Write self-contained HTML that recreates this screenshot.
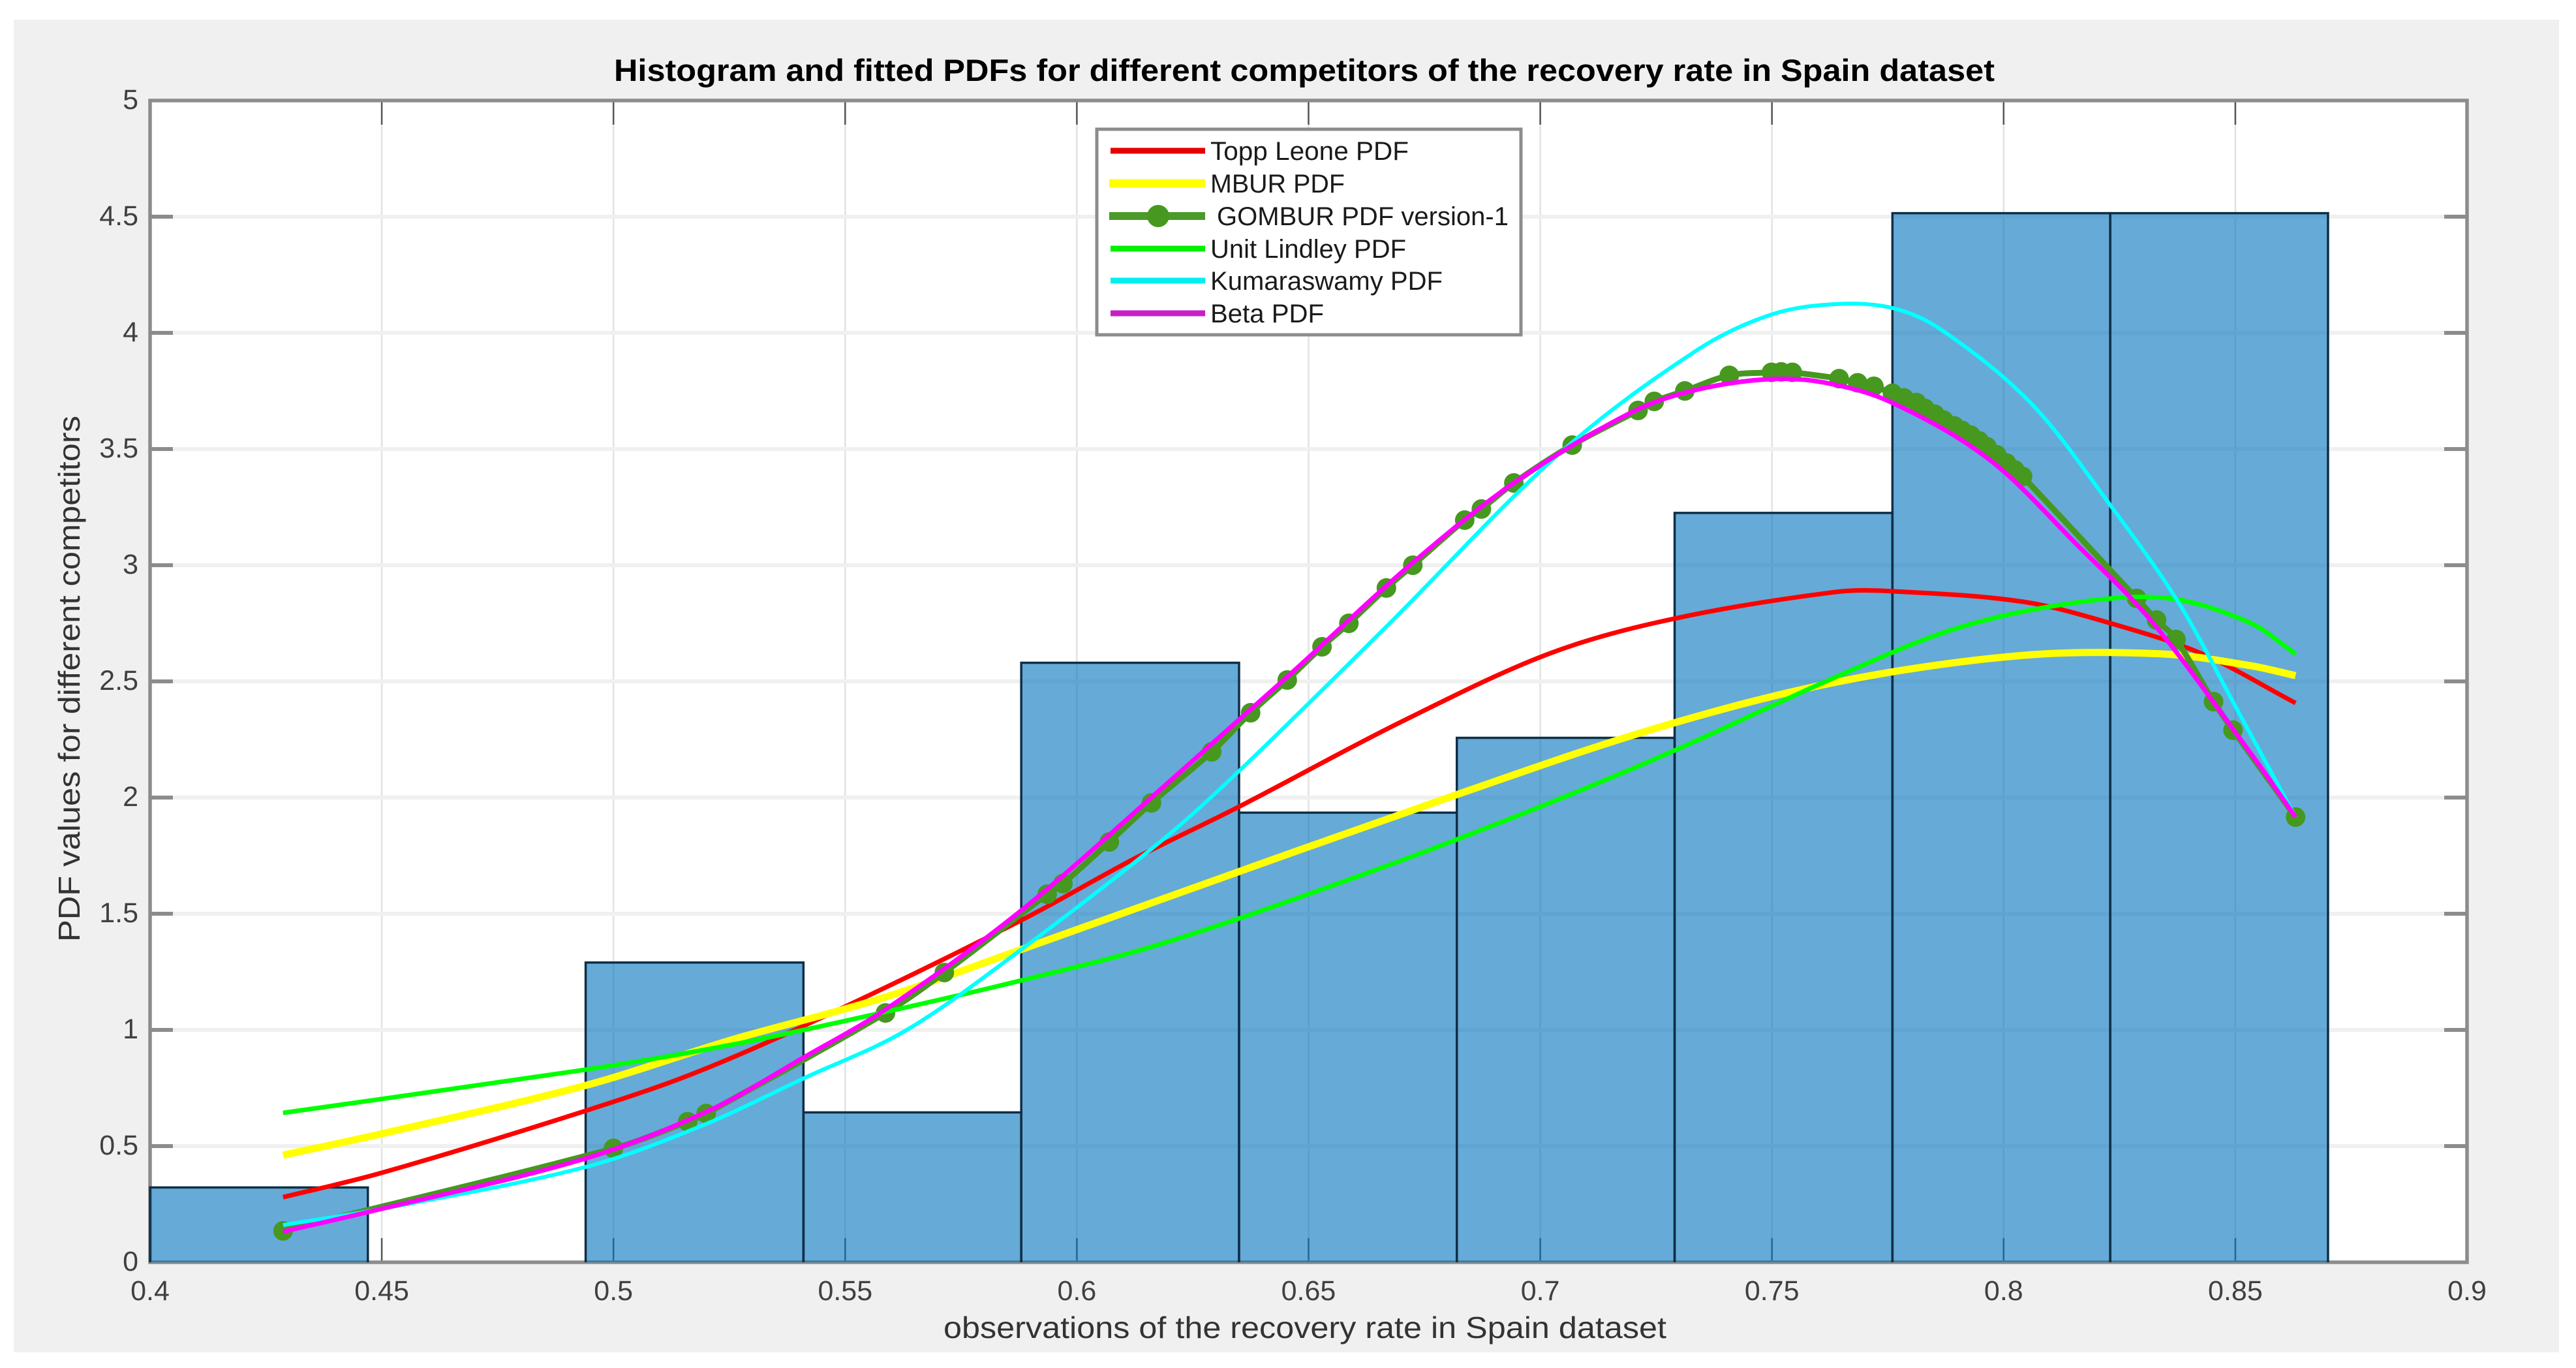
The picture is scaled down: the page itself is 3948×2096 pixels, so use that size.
<!DOCTYPE html>
<html>
<head>
<meta charset="utf-8">
<title>Histogram and fitted PDFs</title>
<style>
html,body{margin:0;padding:0;background:#fff;}
svg{display:block;font-family:"Liberation Sans",sans-serif;}
</style>
</head>
<body>
<svg id="chart" xmlns="http://www.w3.org/2000/svg" width="3948" height="2096" viewBox="0 0 3948 2096">
  <rect x="0" y="0" width="3948" height="2096" fill="#ffffff"/>
  <rect x="21" y="30" width="3901" height="2042" fill="#f0f0f0"/>
  <rect x="230" y="154" width="3551" height="1780" fill="#ffffff"/>
  <g id="grid"></g>
  <g id="axes"></g>
  <g id="bars"></g>
  <g id="curves"></g>
  <text x="1999" y="124" text-anchor="middle" font-size="47" font-weight="bold" fill="#000" textLength="2116" lengthAdjust="spacingAndGlyphs">Histogram and fitted PDFs for different competitors of the recovery rate in Spain dataset</text>
  <text x="2000" y="2050" text-anchor="middle" font-size="46" fill="#333" textLength="1108" lengthAdjust="spacingAndGlyphs">observations of the recovery rate in Spain dataset</text>
  <text transform="translate(122,1040) rotate(-90)" text-anchor="middle" font-size="46" fill="#333" textLength="806" lengthAdjust="spacingAndGlyphs">PDF values for different competitors</text>
  <g>
    <rect x="1681" y="198" width="650" height="315" fill="#fff" stroke="#8c8c8c" stroke-width="5"/>
    <line x1="1702" x2="1847" y1="231" y2="231" stroke="#e60000" stroke-width="9"/>
    <text x="1855" y="245" font-size="39.5" fill="#1a1a1a" textLength="304" lengthAdjust="spacingAndGlyphs">Topp Leone PDF</text>
    <line x1="1700" x2="1847" y1="281" y2="281" stroke="#ffff00" stroke-width="13"/>
    <text x="1855" y="295" font-size="39.5" fill="#1a1a1a" textLength="206" lengthAdjust="spacingAndGlyphs">MBUR PDF</text>
    <line x1="1700" x2="1847" y1="331" y2="331" stroke="#4c9a2a" stroke-width="12"/>
    <ellipse cx="1775" cy="331" rx="17" ry="17" fill="#46981f"/>
    <text x="1865" y="345" font-size="39.5" fill="#1a1a1a" textLength="447" lengthAdjust="spacingAndGlyphs">GOMBUR PDF version-1</text>
    <line x1="1702" x2="1847" y1="381" y2="381" stroke="#00f000" stroke-width="9"/>
    <text x="1855" y="395" font-size="39.5" fill="#1a1a1a" textLength="300" lengthAdjust="spacingAndGlyphs">Unit Lindley PDF</text>
    <line x1="1702" x2="1847" y1="430" y2="430" stroke="#00f0f0" stroke-width="9"/>
    <text x="1855" y="444" font-size="39.5" fill="#1a1a1a" textLength="356" lengthAdjust="spacingAndGlyphs">Kumaraswamy PDF</text>
    <line x1="1702" x2="1847" y1="480" y2="480" stroke="#c81ec8" stroke-width="9"/>
    <text x="1855" y="494" font-size="39.5" fill="#1a1a1a" textLength="174" lengthAdjust="spacingAndGlyphs">Beta PDF</text>
  </g>
</svg>
<script>
var xTicks = [0.4,0.45,0.5,0.55,0.6,0.65,0.7,0.75,0.8,0.85,0.9];
var xTickLabels = ["0.4","0.45","0.5","0.55","0.6","0.65","0.7","0.75","0.8","0.85","0.9"];
var yTicks = [0,0.5,1,1.5,2,2.5,3,3.5,4,4.5,5];
var yTickLabels = ["0","0.5","1","1.5","2","2.5","3","3.5","4","4.5","5"];

var binEdges = [0.4,0.447,0.494,0.541,0.588,0.635,0.682,0.729,0.776,0.823,0.87];
var binHeights = [0.322,0,1.29,0.645,2.58,1.935,2.257,3.225,4.515,4.515];

var toppX = [0.4287,0.45,0.494,0.519,0.5507,0.588,0.6126,0.6352,0.6703,0.702,0.7289,0.7639,0.776,0.8041,0.8231,0.8429,0.863];
var toppY = [0.28,0.385,0.652,0.826,1.107,1.472,1.739,1.963,2.329,2.62,2.77,2.885,2.888,2.843,2.75,2.618,2.407];

var mburX = [0.4287,0.45,0.494,0.526,0.5577,0.588,0.6352,0.6816,0.7244,0.7639,0.8041,0.8344,0.8534,0.863];
var mburY = [0.461,0.553,0.761,0.96,1.135,1.346,1.683,2.01,2.295,2.497,2.612,2.618,2.567,2.525];

var gomburX = [0.4287,0.5,0.516,0.52,0.5587,0.5714,0.5936,0.597,0.607,0.6161,0.6291,0.6375,0.6454,0.6529,0.6587,0.6668,0.6725,0.6837,0.6873,0.6943,0.7069,0.7211,0.7246,0.7312,0.7408,0.7499,0.752,0.7544,0.7645,0.7685,0.772,0.776,0.7785,0.7812,0.783,0.7851,0.787,0.7893,0.791,0.7929,0.7947,0.7964,0.7985,0.8006,0.8024,0.8041,0.8287,0.833,0.8372,0.8453,0.8495,0.863];
var gomburY = [0.135,0.49,0.605,0.64,1.073,1.247,1.584,1.63,1.809,1.977,2.197,2.365,2.506,2.649,2.75,2.902,3.0,3.194,3.242,3.354,3.517,3.666,3.705,3.75,3.817,3.83,3.832,3.83,3.803,3.785,3.77,3.74,3.72,3.7,3.675,3.65,3.625,3.6,3.58,3.56,3.535,3.51,3.475,3.44,3.41,3.382,2.857,2.764,2.68,2.413,2.29,1.916];

var lindleyX = [0.4287,0.494,0.526,0.5577,0.588,0.6188,0.6633,0.6985,0.7289,0.7639,0.7901,0.8159,0.8358,0.8534,0.863];
var lindleyY = [0.643,0.829,0.938,1.073,1.213,1.374,1.68,1.949,2.202,2.52,2.73,2.84,2.857,2.75,2.618];

var kumaX = [0.4287,0.45,0.494,0.519,0.5411,0.5633,0.588,0.6188,0.6352,0.6668,0.7041,0.7337,0.7499,0.7639,0.776,0.7865,0.8062,0.8231,0.8379,0.8506,0.863];
var kumaY = [0.16,0.23,0.41,0.587,0.792,1.0,1.346,1.823,2.118,2.736,3.48,3.924,4.079,4.124,4.107,4.014,3.691,3.256,2.834,2.371,1.916];

var betaX = [0.4287,0.447,0.494,0.5211,0.5411,0.5591,0.588,0.6188,0.6457,0.6725,0.6943,0.7196,0.7337,0.7499,0.7619,0.776,0.7971,0.8159,0.8323,0.8534,0.863];
var betaY = [0.132,0.216,0.447,0.657,0.882,1.093,1.514,2.048,2.525,3.011,3.354,3.657,3.755,3.801,3.784,3.699,3.452,3.087,2.75,2.188,1.916];

var SVGNS = "http://www.w3.org/2000/svg";
var X0 = 230, X1 = 3781, Y0 = 1934, Y1 = 154;
function sx(v){ return X0 + (v - 0.4) / 0.5 * (X1 - X0); }
function sy(v){ return Y0 - v / 5 * (Y0 - Y1); }
function make(parent, tag, attrs){
  var el = document.createElementNS(SVGNS, tag);
  for (var k in attrs) el.setAttribute(k, attrs[k]);
  parent.appendChild(el);
  return el;
}
function smoothPath(xs, ys){
  var pts = xs.map(function(x, i){ return [sx(x), sy(ys[i])]; });
  var d = "M" + pts[0][0].toFixed(1) + " " + pts[0][1].toFixed(1);
  for (var i = 0; i < pts.length - 1; i++){
    var p0 = pts[Math.max(i - 1, 0)], p1 = pts[i], p2 = pts[i + 1], p3 = pts[Math.min(i + 2, pts.length - 1)];
    var h = p2[0] - p1[0];
    var m1 = (p2[1] - p0[1]) / Math.max(p2[0] - p0[0], 1);
    var m2 = (p3[1] - p1[1]) / Math.max(p3[0] - p1[0], 1);
    var c1x = p1[0] + h / 3, c1y = p1[1] + m1 * h / 3;
    var c2x = p2[0] - h / 3, c2y = p2[1] - m2 * h / 3;
    d += "C" + c1x.toFixed(1) + " " + c1y.toFixed(1) + " " + c2x.toFixed(1) + " " + c2y.toFixed(1) + " " + p2[0].toFixed(1) + " " + p2[1].toFixed(1);
  }
  return d;
}

var gGrid = document.getElementById("grid");
var gAxes = document.getElementById("axes");
var gBars = document.getElementById("bars");
var gCurves = document.getElementById("curves");

xTicks.forEach(function(t, i){
  var px = sx(t);
  if (i > 0 && i < xTicks.length - 1){
    var gl = make(gGrid, "line", {x1: px, x2: px, y1: Y1, y2: Y0, stroke: "#e2e2e2", "stroke-width": 2.5});
    
    
    var t1 = make(gAxes, "line", {x1: px, x2: px, y1: Y1, y2: Y1 + 37, stroke: "#555", "stroke-width": 2.5});
    
    
    var t2 = make(gAxes, "line", {x1: px, x2: px, y1: Y0, y2: Y0 - 37, stroke: "#555", "stroke-width": 2.5});
    
    
  }
  var lab = make(gAxes, "text", {x: px, y: 1992, "text-anchor": "middle", "font-size": 43, fill: "#404040"});
  lab.textContent = xTickLabels[i];
  
  
});
yTicks.forEach(function(t, i){
  var py = sy(t);
  if (i > 0 && i < yTicks.length - 1){
    var gl = make(gGrid, "line", {x1: X0, x2: X1, y1: py, y2: py, stroke: "#f0f0f0", "stroke-width": 6});
    
    
    var t1 = make(gAxes, "line", {x1: X0, x2: X0 + 35, y1: py, y2: py, stroke: "#8c8c8c", "stroke-width": 6});
    
    
    var t2 = make(gAxes, "line", {x1: X1, x2: X1 - 35, y1: py, y2: py, stroke: "#8c8c8c", "stroke-width": 6});
    
    
  }
  var lab = make(gAxes, "text", {x: 212, y: py + 13, "text-anchor": "end", "font-size": 43, fill: "#404040"});
  lab.textContent = yTickLabels[i];
  
  
});
var frame = make(gAxes, "rect", {x: X0, y: Y1, width: X1 - X0, height: Y0 - Y1, fill: "none", stroke: "#8c8c8c", "stroke-width": 5.5});



binHeights.forEach(function(h, i){
  if (h <= 0) return;
  var l = sx(binEdges[i]), r = sx(binEdges[i + 1]), top = sy(h);
  var bar = make(gBars, "rect", {x: l, y: top, width: r - l, height: Y0 - top, fill: "#0072bd", "fill-opacity": 0.6});
  
  
  var edge = make(gBars, "path", {d: "M" + l + " " + Y0 + "V" + top + "H" + r + "V" + Y0, fill: "none", stroke: "#0f2e46", "stroke-width": 3.5});
  
  
});

var toppLine = make(gCurves, "path", {d: smoothPath(toppX, toppY), fill: "none", stroke: "#ff0000", "stroke-width": 7, "stroke-linejoin": "round"});


var mburLine = make(gCurves, "path", {d: smoothPath(mburX, mburY), fill: "none", stroke: "#ffff00", "stroke-width": 11, "stroke-linejoin": "round"});


var gomburLine = make(gCurves, "path", {d: smoothPath(gomburX, gomburY), fill: "none", stroke: "#46981f", "stroke-width": 9, "stroke-linejoin": "round"});


gomburX.forEach(function(x, i){
  var m = make(gCurves, "circle", {cx: sx(x), cy: sy(gomburY[i]), r: 15, fill: "#46981f"});
  
  
});
var lindleyLine = make(gCurves, "path", {d: smoothPath(lindleyX, lindleyY), fill: "none", stroke: "#00ff00", "stroke-width": 7, "stroke-linejoin": "round"});


var kumaLine = make(gCurves, "path", {d: smoothPath(kumaX, kumaY), fill: "none", stroke: "#00ffff", "stroke-width": 6, "stroke-linejoin": "round"});


var betaLine = make(gCurves, "path", {d: smoothPath(betaX, betaY), fill: "none", stroke: "#ff00ff", "stroke-width": 7, "stroke-linejoin": "round"});


</script>
</body>
</html>
